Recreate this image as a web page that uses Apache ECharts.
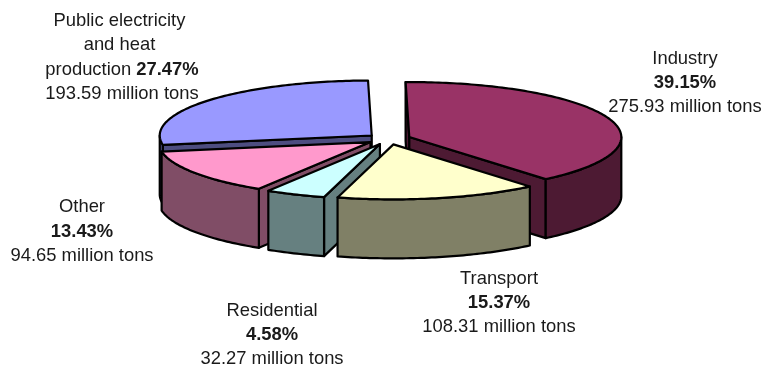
<!DOCTYPE html>
<html>
<head>
<meta charset="utf-8">
<style>html,body{margin:0;padding:0;background:#fff}#chart{width:763px;height:366px}</style>
<script src="https://cdn.jsdelivr.net/npm/echarts@6/dist/echarts.min.js"></script>
</head>
<body>
<div id="chart"></div>
<script>
// CO2 emissions by sector, clockwise from the top of the pie
const sectorNames = ['Industry', 'Transport', 'Residential', 'Other', 'Public electricity\nand heat\nproduction'];
const sectorTons = [275.93, 108.31, 32.27, 94.65, 193.59];
const sectorShares = ['39.15%', '15.37%', '4.58%', '13.43%', '27.47%'];

// Top faces and their darker side walls
const topColors = ['#993366', '#FFFFCC', '#CCFFFF', '#FF99CC', '#9999FF'];
const wallColors = ['#4D1A33', '#808066', '#668080', '#804D66', '#4D4D80'];

// Back-to-front paint rank, so nearer slices cover farther ones
const paintRank = [1, 4, 3, 2, 0];

// Label centres, one per sector
const labelX = [685, 499, 272, 82, 122];
const labelY = [83, 303, 335, 231.5, 57.5];

// Projection of the tilted pie
const pie = { cx: 388.7, cy: 139, rx: 212, ry: 55, depth: 59, explodeX: 22, explodeY: 5.5, startDeg: -1 };

const total = sectorTons.reduce((s, v) => s + v, 0);
const rad = d => d * Math.PI / 180;

function startOf(index) {
  let sum = 0;
  for (let i = 0; i < index; i++) sum += sectorTons[i];
  return pie.startDeg + sum / total * 360;
}

function rimPoint(c, deg, drop) {
  return [c[0] + pie.rx * Math.sin(rad(deg)), c[1] - pie.ry * Math.cos(rad(deg)) + drop];
}

function arc(c, from, to, drop) {
  const pts = [];
  const steps = Math.max(2, Math.ceil(Math.abs(to - from)));
  for (let k = 0; k <= steps; k++) pts.push(rimPoint(c, from + (to - from) * k / steps, drop));
  return pts;
}

function face(points, fill, z2) {
  return {
    type: 'polygon',
    z2: z2,
    shape: { points: points },
    style: { fill: fill, stroke: '#000', lineWidth: 2.2, lineJoin: 'round' }
  };
}

function renderSlice(params, api) {
  const i = params.dataIndex;
  const a = startOf(i);
  const b = a + api.value(0) / total * 360;
  const mid = rad((a + b) / 2);
  const c = [pie.cx + pie.explodeX * Math.sin(mid), pie.cy - pie.explodeY * Math.cos(mid)];
  const base = [c[0], c[1] + pie.depth];
  const rank = paintRank[i] * 10;
  const children = [];

  // A cut face shows only when it turns toward the viewer
  if (Math.sin(rad(a)) < 0) {
    children.push(face([c, rimPoint(c, a, 0), rimPoint(c, a, pie.depth), base], wallColors[i], rank + 1));
  }
  if (Math.sin(rad(b)) > 0) {
    children.push(face([c, rimPoint(c, b, 0), rimPoint(c, b, pie.depth), base], wallColors[i], rank + 1));
  }

  // The outer wall shows along the front half of the rim
  const wallFrom = Math.max(a, 90);
  const wallTo = Math.min(b, 270);
  if (wallTo > wallFrom) {
    const upper = arc(c, wallFrom, wallTo, 0);
    const lower = arc(c, wallTo, wallFrom, pie.depth);
    children.push(face(upper.concat(lower), wallColors[i], rank + 2));
  }

  children.push(face([c].concat(arc(c, a, b, 0)), topColors[i], rank + 3));

  // Sector label: name, share in bold, tonnage
  const nameLines = sectorNames[i].split('\n');
  const lastName = nameLines.pop();
  const shareOnNameLine = nameLines.length > 0;
  const head = nameLines.map(t => '{n|' + t + ' }');
  const tail = shareOnNameLine
    ? ['{n|' + lastName + ' }{b|' + sectorShares[i] + '}']
    : ['{n|' + lastName + '}', '{b|' + sectorShares[i] + '}'];
  const lines = head.concat(tail, ['{n|' + api.value(0).toFixed(2) + ' million tons}']);
  children.push({
    type: 'text',
    z2: 100,
    x: labelX[i],
    y: labelY[i],
    style: {
      text: lines.join('\n'),
      align: 'center',
      verticalAlign: 'middle',
      fill: '#1a1a1a',
      rich: {
        n: { fontFamily: 'Liberation Sans', fontSize: 18.4, lineHeight: 24.4, fill: '#1a1a1a' },
        b: { fontFamily: 'Liberation Sans', fontSize: 18.4, lineHeight: 24.4, fontWeight: 'bold', fill: '#1a1a1a' }
      }
    }
  });

  return { type: 'group', children: children };
}

const chart = echarts.init(document.getElementById('chart'), null, { renderer: 'canvas' });
chart.setOption({
  animation: false,
  backgroundColor: '#fff',
  series: [{
    type: 'custom',
    coordinateSystem: 'none',
    silent: true,
    renderItem: renderSlice,
    data: sectorTons.map((v, i) => ({ name: sectorNames[i], value: [v] }))
  }]
});
</script>
</body>
</html>
